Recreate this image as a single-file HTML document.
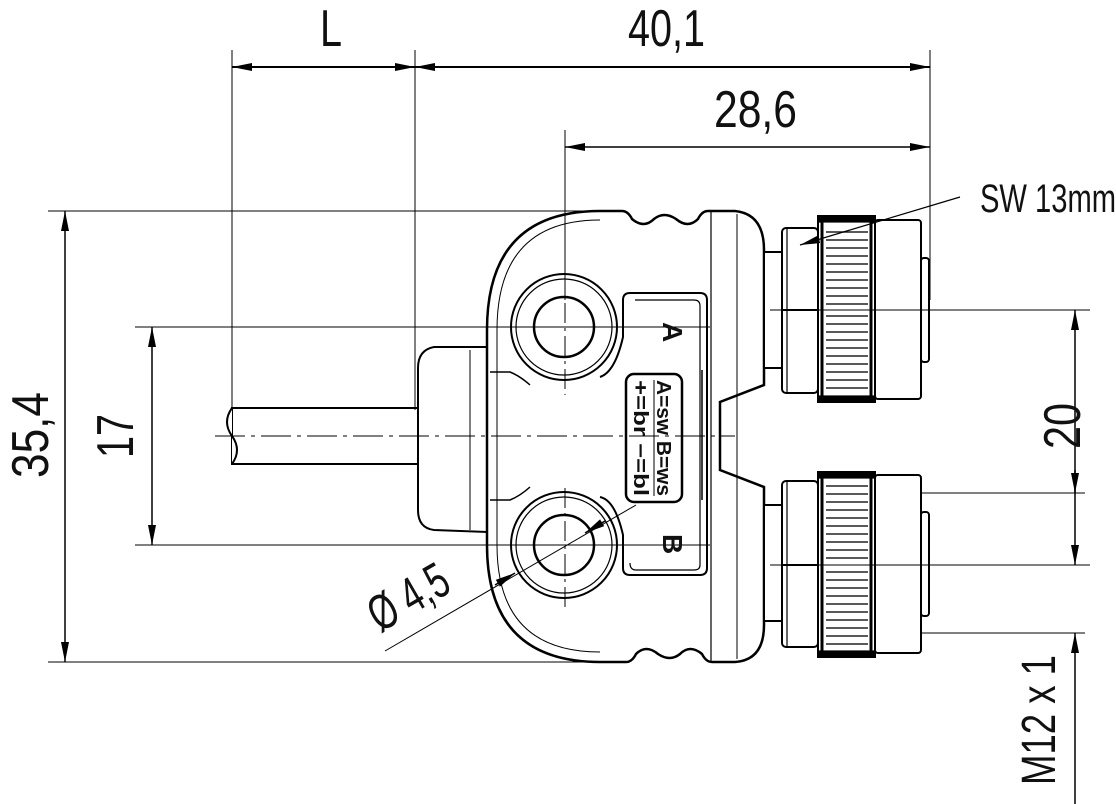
<!DOCTYPE html>
<html><head><meta charset="utf-8"><style>
html,body{margin:0;padding:0;background:#fff}
svg{display:block}
text{font-family:"Liberation Sans",sans-serif;fill:#111}
</style></head><body>
<svg width="1116" height="804" viewBox="0 0 1116 804" xmlns="http://www.w3.org/2000/svg">
<defs>
<marker id="a" viewBox="0 0 20 8" refX="20" refY="4" markerWidth="20" markerHeight="8" markerUnits="userSpaceOnUse" orient="auto"><path d="M0,0 L20,4 L0,8 Z" fill="#000"/></marker>
<marker id="b" viewBox="0 0 20 8" refX="0" refY="4" markerWidth="20" markerHeight="8" markerUnits="userSpaceOnUse" orient="auto"><path d="M20,0 L0,4 L20,8 Z" fill="#000"/></marker>
</defs>
<g stroke="#000" stroke-width="1" fill="none">
<!-- cable -->
<rect x="232" y="408" width="186" height="56" stroke-width="2" fill="#fff"/>
<path d="M232,408 q-10,14 0,28 q10,14 0,28" fill="#fff" stroke-width="2"/>
<!-- left cap -->
<path d="M487,347 L434,347 Q418,350 418,368 L418,510 Q418,528 434,530 L487,532 Z" stroke-width="2" fill="#fff"/>
<line x1="470" y1="350" x2="470" y2="530"/>
<!-- body -->
<path d="M600,211 L622,211 q6,0 10,8 q12,10 22,0 q10,-8 22,0 q12,10 22,0 q4,-8 10,-8 L735,211 Q764,214 764,250 L764,385 L720,402 L720,470 L764,487 L764,625 Q764,660 735,662 L712,662 q-6,0 -10,-8 q-12,-10 -22,0 q-10,8 -22,0 q-12,-10 -22,0 q-4,8 -10,8 L600,662 Q487,662 487,545 L487,330 Q487,211 600,211 Z" stroke-width="2.5" fill="#fff"/>
<path d="M600,220 Q497,220 497,330 L497,545 Q497,652 600,652" stroke-width="1"/>
<line x1="711" y1="212" x2="711" y2="661" stroke-width="1.2"/>
<line x1="737" y1="214" x2="737" y2="659"/>
<!-- holes -->
<circle cx="564" cy="327" r="53" stroke-width="2" fill="#fff"/>
<circle cx="564" cy="327" r="48" stroke-width="1.2"/>
<circle cx="564" cy="327" r="30" stroke-width="2.5"/>
<circle cx="564" cy="545" r="53" stroke-width="2" fill="#fff"/>
<circle cx="564" cy="545" r="48" stroke-width="1.2"/>
<circle cx="564" cy="545" r="30" stroke-width="2.5"/>
<path d="M490,372 L510,372 Q520,376 530,385" stroke-width="1.5"/>
<path d="M490,500 L510,500 Q520,496 530,487" stroke-width="1.5"/>
<!-- label frame -->
<path d="M630,293 L700,293 Q707,293 707,300 L707,568 Q707,575 700,575 L630,575 Q623,575 623,568 L623,535 Q615,500 600,497 M600,377 Q615,372 623,337 L623,300 Q623,293 630,293" stroke-width="2"/>
<path d="M635,300 L694,300 Q700,300 700,306 L700,565 Q700,570 694,570 L636,570 Q630,570 630,563" stroke-width="1.2"/>
<rect x="626" y="374" width="56" height="128" rx="8" stroke-width="2.5"/>
<line x1="654" y1="380" x2="654" y2="496"/>
<line x1="702" y1="370" x2="702" y2="500" stroke-width="1.5"/>
<!-- connectors -->
<g stroke-width="2" fill="#fff">
<rect x="764" y="252" width="18" height="116"/>
<rect x="782" y="228" width="36" height="165" rx="4"/>
<rect x="818" y="216" width="57" height="186"/>
<rect x="875" y="220" width="46" height="179" rx="3"/>
<rect x="921" y="258" width="8" height="104" rx="3"/>
<rect x="764" y="505" width="18" height="116"/>
<rect x="782" y="481" width="36" height="166" rx="4"/>
<rect x="818" y="472" width="57" height="185"/>
<rect x="875" y="475" width="46" height="178" rx="3"/>
<rect x="921" y="512" width="8" height="104" rx="3"/>
</g>
<g stroke-width="1.2">
<line x1="787" y1="228" x2="787" y2="393"/><line x1="782" y1="310" x2="818" y2="310" stroke-width="2"/>
<line x1="787" y1="481" x2="787" y2="647"/><line x1="782" y1="565" x2="818" y2="565" stroke-width="2"/>
<line x1="822" y1="216" x2="822" y2="402" stroke-width="3"/><line x1="871" y1="216" x2="871" y2="402" stroke-width="3"/>
<line x1="822" y1="472" x2="822" y2="657" stroke-width="3"/><line x1="871" y1="472" x2="871" y2="657" stroke-width="3"/>
<rect x="818" y="216" width="57" height="6" fill="#000"/><rect x="818" y="396" width="57" height="6" fill="#000"/>
<rect x="818" y="472" width="57" height="6" fill="#000"/><rect x="818" y="651" width="57" height="6" fill="#000"/>
</g>
<g stroke-width="1.4" stroke="#222">
<path d="M826,232h42M826,240h42M826,248h42M826,256h42M826,264h42M826,272h42M826,280h42M826,288h42M826,296h42M826,304h42M826,316h42M826,324h42M826,332h42M826,340h42M826,348h42M826,356h42M826,364h42M826,372h42M826,380h42M826,388h42"/>
<path d="M826,486h42M826,494h42M826,502h42M826,510h42M826,518h42M826,526h42M826,534h42M826,542h42M826,550h42M826,558h42M826,572h42M826,580h42M826,588h42M826,596h42M826,604h42M826,612h42M826,620h42M826,628h42M826,636h42M826,644h42"/>
</g>
<!-- extension lines -->
<line x1="232" y1="50" x2="232" y2="410"/>
<line x1="415" y1="50" x2="415" y2="410"/>
<line x1="930" y1="50" x2="930" y2="300"/>
<line x1="565" y1="130" x2="565" y2="300"/>
<line x1="48" y1="211" x2="600" y2="211"/>
<line x1="48" y1="662" x2="600" y2="662"/>
<line x1="135" y1="327" x2="710" y2="327"/>
<line x1="135" y1="545" x2="710" y2="545"/>
<line x1="775" y1="310" x2="1090" y2="310"/>
<line x1="775" y1="565" x2="1090" y2="565"/>
<line x1="920" y1="493" x2="1085" y2="493"/>
<line x1="920" y1="633" x2="1085" y2="633"/>
<!-- dimension lines -->
<line x1="232" y1="67" x2="415" y2="67" stroke-width="2" marker-start="url(#b)" marker-end="url(#a)"/>
<line x1="415" y1="67" x2="930" y2="67" stroke-width="2" marker-start="url(#b)" marker-end="url(#a)"/>
<line x1="565" y1="147" x2="930" y2="147" stroke-width="1.5" marker-start="url(#b)" marker-end="url(#a)"/>
<line x1="65" y1="211" x2="65" y2="662" stroke-width="1.5" marker-start="url(#b)" marker-end="url(#a)"/>
<line x1="152" y1="327" x2="152" y2="545" stroke-width="1.5" marker-start="url(#b)" marker-end="url(#a)"/>
<line x1="1075" y1="310" x2="1075" y2="565" stroke-width="1.5" marker-start="url(#b)" marker-end="url(#a)"/>
<line x1="1075" y1="470" x2="1075" y2="493" stroke-width="1.5" marker-end="url(#a)"/>
<line x1="1075" y1="804" x2="1075" y2="633" stroke-width="1.5" marker-end="url(#a)"/>
<line x1="385" y1="651" x2="636" y2="505"/>
<line x1="605" y1="521" x2="585" y2="533" stroke-width="1.5" marker-end="url(#a)"/>
<line x1="495" y1="585" x2="515" y2="573" stroke-width="1.5" marker-end="url(#a)"/>
<line x1="960" y1="197" x2="800" y2="245" stroke-width="1.2" marker-end="url(#a)"/>
<!-- center lines -->
<line x1="215" y1="436" x2="735" y2="436" stroke-dasharray="30,6,4,6"/>
<line x1="565" y1="270" x2="565" y2="395" stroke-dasharray="20,5,3,5"/>
<line x1="565" y1="488" x2="565" y2="610" stroke-dasharray="20,5,3,5"/>
<line x1="770" y1="310" x2="935" y2="310" stroke-dasharray="12,4,3,4"/>
<line x1="770" y1="565" x2="935" y2="565" stroke-dasharray="12,4,3,4"/>
</g>
<!-- labels -->
<text x="320" y="46" font-size="52" textLength="22" lengthAdjust="spacingAndGlyphs">L</text>
<text x="628" y="46" font-size="52" textLength="77" lengthAdjust="spacingAndGlyphs">40,1</text>
<text x="714" y="127" font-size="52" textLength="83" lengthAdjust="spacingAndGlyphs">28,6</text>
<text x="980" y="212" font-size="40" textLength="136" lengthAdjust="spacingAndGlyphs">SW 13mm</text>
<text transform="translate(48,478) rotate(-90)" font-size="52" textLength="86" lengthAdjust="spacingAndGlyphs">35,4</text>
<text transform="translate(133,458) rotate(-90)" font-size="52" textLength="44" lengthAdjust="spacingAndGlyphs">17</text>
<text transform="translate(1080,449) rotate(-90)" font-size="52" textLength="46" lengthAdjust="spacingAndGlyphs">20</text>
<text transform="translate(1055,785) rotate(-90)" font-size="48" textLength="130" lengthAdjust="spacingAndGlyphs">M12 x 1</text>
<text transform="translate(380,633) rotate(-30)" font-size="50" textLength="85" lengthAdjust="spacingAndGlyphs">Ø 4,5</text>
<text transform="translate(663,322) rotate(90)" font-size="28" font-weight="bold">A</text>
<text transform="translate(663,534) rotate(90)" font-size="28" font-weight="bold">B</text>
<text transform="translate(657,380) rotate(90)" font-size="20" font-weight="bold" textLength="116" lengthAdjust="spacingAndGlyphs">A=sw B=ws</text>
<text transform="translate(634,380) rotate(90)" font-size="20" font-weight="bold" textLength="116" lengthAdjust="spacingAndGlyphs">+=br −=bl</text>
</svg>
</body></html>
